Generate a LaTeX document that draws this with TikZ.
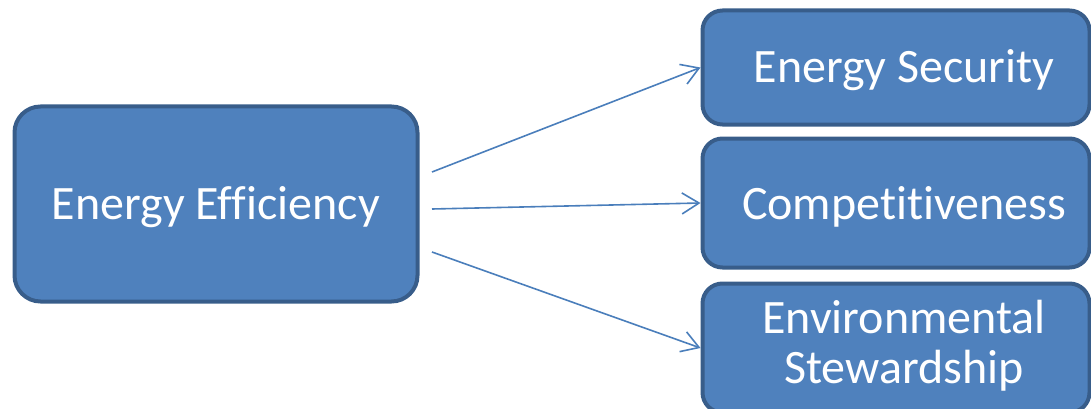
\documentclass[tikz,border=0pt]{standalone}
\usepackage{fontspec}
\setmainfont[Ligatures=NoCommon,RawFeature={-liga;-clig;-dlig;-calt}]{Carlito}
\usetikzlibrary{arrows.meta}
\definecolor{boxfill}{HTML}{4F81BD}
\definecolor{boxline}{HTML}{385D8A}
\definecolor{arrowcol}{HTML}{4A7EBB}
\tikzset{
  box/.style={draw=boxline, fill=boxfill, line width=4pt, inner sep=0pt},
  label/.style={text=white, font=\fontsize{48}{50}\selectfont, inner sep=0pt, anchor=base},
  conn/.style={draw=arrowcol, line width=1.6pt, -{Straight Barb[length=17pt,width=21pt,line width=1.6pt]}}
}
\begin{document}
\begin{tikzpicture}[x=1pt,y=-1pt]
\useasboundingbox (0,0) rectangle (1091,409);
\node[box, rounded corners=26pt, minimum width=403pt, minimum height=195pt] (ee) at (216,204) {};
\node[label] (eet) at (216,219) {Energy Efficiency};
\node[box, rounded corners=20pt, minimum width=387pt, minimum height=114pt] (es) at (896,67.5) {};
\node[label] (est) at (904,83) {Energy Security};
\node[box, rounded corners=20pt, minimum width=387pt, minimum height=129pt] (co) at (896,203) {};
\node[label] (cot) at (904,219) {Competitiveness};
\node[box, rounded corners=20pt, minimum width=387pt, minimum height=129pt] (en) at (896,348) {};
\node[label] (ent1) at (904,333) {Environmental};
\node[label] (ent2) at (904,383) {Stewardship};
\coordinate (s1) at (432,172);
\coordinate (s2) at (432,209);
\coordinate (s3) at (432,252);
\draw[conn] (s1) -- (es.west);
\draw[conn] (s2) -- (co.west);
\draw[conn] (s3) -- (en.west);
\end{tikzpicture}
\end{document}
